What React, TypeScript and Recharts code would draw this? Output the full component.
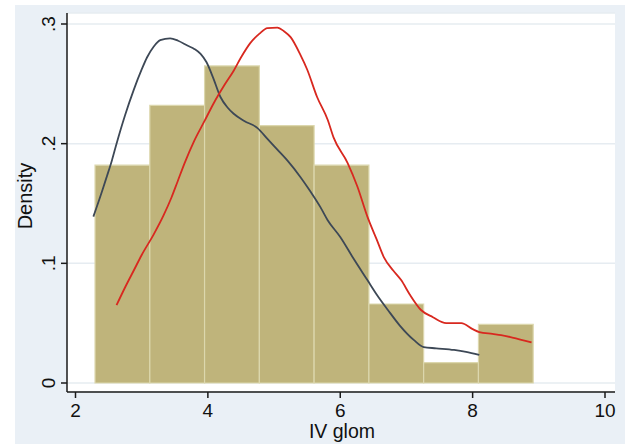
import React from 'react';
import { ComposedChart, Line, XAxis, YAxis, CartesianGrid, ReferenceArea } from 'recharts';

// histogram of IV glom (density scale)
const binEdges = [2.295, 3.123, 3.95, 4.778, 5.605, 6.433, 7.26, 8.088, 8.915];
const binDensity = [0.182, 0.232, 0.265, 0.215, 0.182, 0.066, 0.017, 0.049];

// kernel density, dark curve
const darkX = [2.27, 2.4, 2.47, 2.55, 2.62, 2.75, 2.88, 3.0, 3.08, 3.18, 3.28, 3.43, 3.55, 3.69, 3.8, 3.89, 3.98, 4.08, 4.19, 4.3, 4.39, 4.55, 4.75, 4.9, 5.05, 5.2, 5.4, 5.55, 5.7, 5.81, 6.0, 6.2, 6.41, 6.55, 6.72, 6.9, 7.11, 7.26, 7.45, 7.72, 7.9, 8.1];
const darkY = [0.139, 0.16, 0.172, 0.186, 0.2, 0.224, 0.245, 0.262, 0.272, 0.281, 0.2865, 0.288, 0.286, 0.282, 0.279, 0.275, 0.268, 0.255, 0.239, 0.23, 0.225, 0.219, 0.213, 0.204, 0.195, 0.186, 0.172, 0.16, 0.147, 0.136, 0.122, 0.104, 0.086, 0.074, 0.061, 0.048, 0.036, 0.03, 0.029, 0.0276, 0.026, 0.0234];

// kernel density, red curve
const redX = [2.62, 2.75, 2.88, 3.0, 3.18, 3.33, 3.45, 3.54, 3.65, 3.79, 3.95, 4.09, 4.25, 4.39, 4.5, 4.64, 4.78, 4.9, 5.05, 5.15, 5.25, 5.4, 5.5, 5.65, 5.81, 5.9, 6.11, 6.26, 6.41, 6.55, 6.66, 6.8, 6.92, 7.05, 7.22, 7.4, 7.6, 7.83, 8.0, 8.1, 8.3, 8.43, 8.6, 8.89];
const redY = [0.065, 0.08, 0.094, 0.107, 0.124, 0.14, 0.155, 0.168, 0.184, 0.202, 0.219, 0.234, 0.249, 0.261, 0.272, 0.284, 0.292, 0.2966, 0.297, 0.294, 0.289, 0.274, 0.262, 0.239, 0.22, 0.205, 0.184, 0.164, 0.139, 0.12, 0.105, 0.094, 0.086, 0.074, 0.061, 0.055, 0.05, 0.05, 0.045, 0.0426, 0.041, 0.04, 0.038, 0.034];

const xTicks = [2, 4, 6, 8, 10];
const yTicks = [0, 0.1, 0.2, 0.3];
const yTickLabels = ['0', '.1', '.2', '.3'];

const FONT = '"Liberation Sans", Arial, Helvetica, sans-serif';

const darkData = darkX.map((x, i) => ({ x, y: darkY[i] }));
const redData = redX.map((x, i) => ({ x, y: redY[i] }));

const YTick = (props: any) => {
  const { y, payload } = props;
  const idx = yTicks.indexOf(payload.value);
  const label = idx >= 0 ? yTickLabels[idx] : String(payload.value);
  return (
    <text x={55} y={y} transform={`rotate(-90 55 ${y})`} textAnchor="middle" fontSize={19} fontFamily={FONT} fill="#111">
      {label}
    </text>
  );
};

const XTick = (props: any) => {
  const { x, payload } = props;
  return (
    <text x={x} y={417} textAnchor="middle" fontSize={19} fontFamily={FONT} fill="#111">
      {payload.value}
    </text>
  );
};

const App: React.FC = () => {
  return (
    <div style={{ position: 'absolute', left: 0, top: 0, width: 625, height: 444, background: '#fff', overflow: 'hidden' }}>
      <div style={{ position: 'absolute', left: 15, top: 5, right: 0, bottom: 0, background: '#eaf0f6' }} />
      <div style={{ position: 'absolute', left: 0, top: 0 }}>
        <ComposedChart width={625} height={444} margin={{ top: 13, right: 10, bottom: 0, left: 0 }}>
          <CartesianGrid fill="#fff" vertical={false} stroke="#e6ecf1" strokeWidth={1.5} />
          <XAxis
            type="number"
            dataKey="x"
            domain={[2, 10]}
            ticks={xTicks}
            height={52}
            padding={{ left: 8.5, right: 10 }}
            axisLine={{ stroke: '#1a1a1a', strokeWidth: 1.5 }}
            tickLine={{ stroke: '#1a1a1a', strokeWidth: 1.5 }}
            tickSize={6}
            tick={<XTick />}
            allowDataOverflow
          />
          <YAxis
            type="number"
            domain={[0, 0.3]}
            ticks={yTicks}
            width={67}
            padding={{ top: 11, bottom: 9 }}
            axisLine={{ stroke: '#1a1a1a', strokeWidth: 1.5 }}
            tickLine={{ stroke: '#1a1a1a', strokeWidth: 1.5 }}
            tickSize={6}
            tick={<YTick />}
            allowDataOverflow
          />
          {binDensity.map((d, i) => (
            <ReferenceArea
              key={i}
              x1={binEdges[i]}
              x2={binEdges[i + 1]}
              y1={0}
              y2={d}
              fill="#bfb47b"
              fillOpacity={1}
              stroke="#dcd7ad"
              strokeWidth={1.2}
              ifOverflow="visible"
            />
          ))}
          <Line data={darkData} dataKey="y" type="monotone" stroke="#3d4856" strokeWidth={1.8} dot={false} isAnimationActive={false} />
          <Line data={redData} dataKey="y" type="monotone" stroke="#d8281f" strokeWidth={1.8} dot={false} isAnimationActive={false} />
        </ComposedChart>
      </div>
      <svg width={625} height={444} style={{ position: 'absolute', left: 0, top: 0, pointerEvents: 'none' }}>
        <text x={32} y={196} transform="rotate(-90 32 196)" textAnchor="middle" fontSize={20} fontFamily={FONT} fill="#111">
          Density
        </text>
        <text x={342} y={438} textAnchor="middle" fontSize={19.5} fontFamily={FONT} fill="#111">
          IV glom
        </text>
      </svg>
    </div>
  );
};

export default App;
